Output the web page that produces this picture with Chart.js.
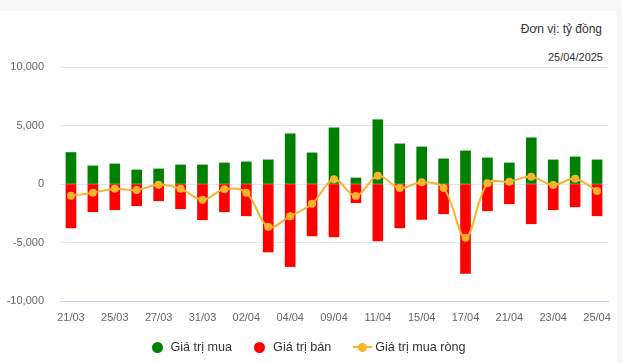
<!doctype html>
<html lang="vi">
<head>
<meta charset="utf-8">
<title>Giá trị giao dịch</title>
<script src="https://cdn.jsdelivr.net/npm/chart.js@4.4.1/dist/chart.umd.min.js"></script>
<style>
    html, body { margin: 0; padding: 0; background: #f6f6f6; }
    body { width: 622px; height: 363px; position: relative; overflow: hidden; font-family: "Liberation Sans", Arial, sans-serif; }
    .card { position: absolute; left: 0; top: 11px; width: 617px; height: 352px; background: #fff; }
    .unit { position: absolute; right: 20px; top: 22px; font-size: 12px; color: #333; }
    .date { position: absolute; right: 19px; top: 51px; font-size: 11px; color: #333; }
    #chart { position: absolute; left: 0; top: 0; }
    .legend { position: absolute; left: 0; width: 617px; top: 339px; height: 16px; display: flex; justify-content: center; align-items: center; font-size: 12.6px; color: #333; }
    .legend .item { display: flex; align-items: center; margin: 0 11px; }
    .legend .mark { margin-right: 8px; }
    .legend .dot { width: 11px; height: 11px; border-radius: 50%; }
    .legend .line { width: 19px; height: 2px; position: relative; margin-right: 3px; }
    .legend .line::after { content: ''; position: absolute; left: 5px; top: -3.5px; width: 9px; height: 9px; border-radius: 50%; background: inherit; }
</style>
</head>
<body>
<div class="card"></div>
<div class="unit">Đơn vị: tỷ đồng</div>
<div class="date">25/04/2025</div>
<canvas id="chart" width="622" height="363"></canvas>
<div class="legend" id="legend"></div>

<script>
    // phiên giao dịch
    const labels = ['21/03', '24/03', '25/03', '26/03', '27/03', '28/03', '31/03', '01/04', '02/04', '03/04',
        '04/04', '08/04', '09/04', '10/04', '11/04', '14/04', '15/04', '16/04', '17/04', '18/04',
        '21/04', '22/04', '23/04', '24/04', '25/04'];
    // giá trị mua (tỷ đồng)
    const muaValues = [2690, 1545, 1716, 1200, 1287, 1630, 1630, 1800, 1890, 2060,
        4290, 2660, 4800, 515, 5490, 3430, 3170, 2145, 2830, 2230,
        1800, 3950, 2060, 2315, 2060];
    // giá trị bán (âm)
    const banValues = [-3750, -2375, -2200, -1860, -1430, -2120, -3060, -2375, -2720, -5810,
        -7060, -4435, -4520, -1600, -4860, -3750, -3030, -2545, -7640, -2290,
        -1690, -3400, -2200, -1950, -2720];
    // giá trị mua ròng
    const rongValues = [-1000, -745, -400, -515, -60, -400, -1350, -450, -745, -3660,
        -2750, -1690, 400, -1030, 710, -340, 145, -340, -4600, 60,
        200, 630, -85, 455, -600];
    const yTicks = [-10000, -5000, 0, 5000, 10000];

    const GREEN = '#008000';
    const RED = '#ff0000';
    const ORANGE = '#fab32d';

    const tickFont = {family: '"Liberation Sans", Arial, sans-serif', size: 11};

    const chart = new Chart(document.getElementById('chart').getContext('2d'), {
        data: {
            labels: labels,
            datasets: [{
                type: 'bar',
                label: 'Giá trị mua',
                data: muaValues,
                backgroundColor: GREEN,
                barThickness: 10,
                stack: 'flow',
                order: 2
            }, {
                type: 'bar',
                label: 'Giá trị bán',
                data: banValues,
                backgroundColor: RED,
                barThickness: 10,
                stack: 'flow',
                order: 2
            }, {
                type: 'line',
                label: 'Giá trị mua ròng',
                data: rongValues,
                borderColor: ORANGE,
                backgroundColor: ORANGE,
                borderWidth: 2,
                pointRadius: 4,
                pointBorderWidth: 0,
                tension: 0.35,
                fill: false,
                stack: 'net',
                order: 0
            }]
        },
        options: {
            responsive: false,
            animation: false,
            layout: {padding: {left: 0, right: 14, top: 67, bottom: 38}},
            scales: {
                x: {
                    stacked: true,
                    grid: {display: false, drawTicks: false},
                    border: {display: true, color: '#ccd6eb'},
                    ticks: {
                        autoSkip: false,
                        maxRotation: 0,
                        padding: 10,
                        color: '#666',
                        font: tickFont,
                        callback: (v, i) => i % 2 === 0 ? labels[i] : ''
                    },
                    afterFit: s => { s.height = 24; }
                },
                y: {
                    stacked: true,
                    min: -10000,
                    max: 10000,
                    grid: {color: '#e6e6e6', drawTicks: false},
                    border: {display: false},
                    ticks: {
                        padding: 16,
                        color: '#666',
                        font: tickFont,
                        callback: v => v.toLocaleString('en-US')
                    },
                    afterBuildTicks: s => { s.ticks = yTicks.map(v => ({value: v})); },
                    afterFit: s => { s.width = 60; }
                }
            },
            plugins: {
                tooltip: {enabled: false},
                legend: {display: false}
            }
        }
    });

    // chú giải dưới biểu đồ
    const legendBox = document.getElementById('legend');
    chart.data.datasets.forEach(ds => {
        const item = document.createElement('div');
        item.className = 'item';
        const mark = document.createElement('span');
        mark.className = 'mark ' + (ds.type === 'line' ? 'line' : 'dot');
        mark.style.background = ds.backgroundColor;
        const text = document.createElement('span');
        text.textContent = ds.label;
        item.appendChild(mark);
        item.appendChild(text);
        legendBox.appendChild(item);
    });
</script>
</body>
</html>
